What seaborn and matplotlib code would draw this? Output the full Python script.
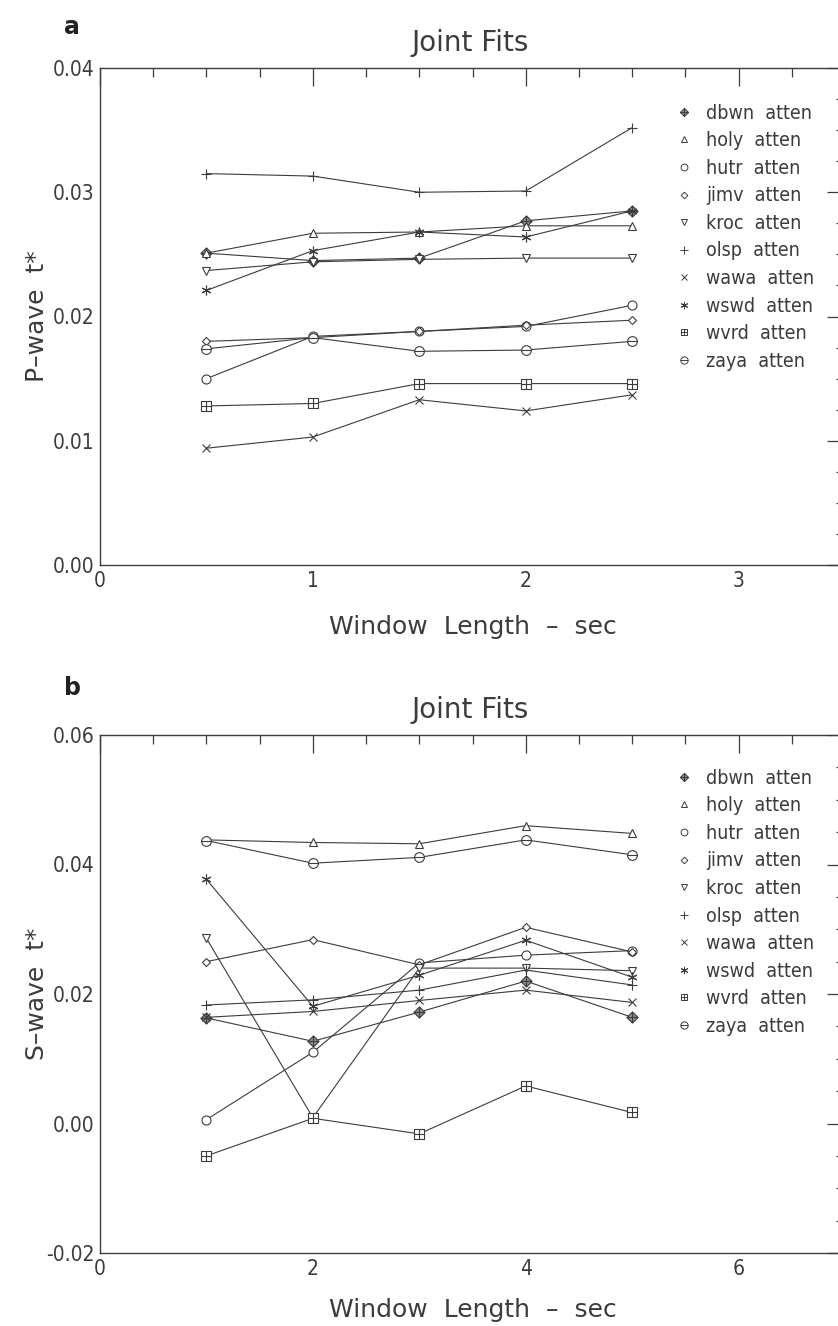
import numpy as np
import pandas as pd
import matplotlib
matplotlib.use("Agg")
import matplotlib.pyplot as plt
from matplotlib.lines import Line2D
from matplotlib.path import Path
from matplotlib.ticker import MultipleLocator, FormatStrFormatter
import seaborn as sns

# ---------------- data ----------------
stations = ["dbwn", "holy", "hutr", "jimv", "kroc", "olsp", "wawa", "wswd", "wvrd", "zaya"]

p_window = [0.5, 1.0, 1.5, 2.0, 2.5]
p_dbwn = [0.0251, 0.0245, 0.0247, 0.0277, 0.0285]
p_holy = [0.0251, 0.0267, 0.0268, 0.0273, 0.0273]
p_hutr = [0.0150, 0.0184, 0.0188, 0.0192, 0.0209]
p_jimv = [0.0180, 0.0183, 0.0188, 0.0193, 0.0197]
p_kroc = [0.0237, 0.0244, 0.0246, 0.0247, 0.0247]
p_olsp = [0.0315, 0.0313, 0.0300, 0.0301, 0.0352]
p_wawa = [0.0094, 0.0103, 0.0133, 0.0124, 0.0137]
p_wswd = [0.0221, 0.0253, 0.0268, 0.0264, 0.0285]
p_wvrd = [0.0128, 0.0130, 0.0146, 0.0146, 0.0146]
p_zaya = [0.0174, 0.0183, 0.0172, 0.0173, 0.0180]

s_window = [1, 2, 3, 4, 5]
s_dbwn = [0.0163, 0.0127, 0.0172, 0.0220, 0.0164]
s_holy = [0.0438, 0.0434, 0.0432, 0.0460, 0.0448]
s_hutr = [0.0006, 0.0110, 0.0248, 0.0260, 0.0267]
s_jimv = [0.0250, 0.0284, 0.0245, 0.0303, 0.0265]
s_kroc = [0.0286, 0.0009, 0.0240, 0.0240, 0.0236]
s_olsp = [0.0183, 0.0191, 0.0206, 0.0237, 0.0214]
s_wawa = [0.0164, 0.0173, 0.0190, 0.0206, 0.0187]
s_wswd = [0.0377, 0.0181, 0.0229, 0.0283, 0.0226]
s_wvrd = [-0.0050, 0.0008, -0.0016, 0.0058, 0.0017]
s_zaya = [0.0437, 0.0402, 0.0411, 0.0438, 0.0415]

p_vals = [p_dbwn, p_holy, p_hutr, p_jimv, p_kroc, p_olsp, p_wawa, p_wswd, p_wvrd, p_zaya]
s_vals = [s_dbwn, s_holy, s_hutr, s_jimv, s_kroc, s_olsp, s_wawa, s_wswd, s_wvrd, s_zaya]

p_df = pd.DataFrame([(st, x, v) for st, vals in zip(stations, p_vals)
                     for x, v in zip(p_window, vals)], columns=["station", "window", "t"])
s_df = pd.DataFrame([(st, x, v) for st, vals in zip(stations, s_vals)
                     for x, v in zip(s_window, vals)], columns=["station", "window", "t"])

# ---------------- style ----------------
sns.set_style("white")
plt.rcParams["font.family"] = ["DejaVu Sans"]
INK = "#3c3c3c"

M, L, C = Path.MOVETO, Path.LINETO, Path.CLOSEPOLY
hl = Path([[-1, 0], [1, 0]], [M, L])
vl = Path([[0, -1], [0, 1]], [M, L])
square = Path([[-1, -1], [1, -1], [1, 1], [-1, 1], [-1, -1]], [M, L, L, L, C])
diamond = Path([[0, -1], [1, 0], [0, 1], [-1, 0], [0, -1]], [M, L, L, L, C])
circle = Path.unit_circle()
diamond_plus = Path.make_compound_path(diamond, hl, vl)
square_plus = Path.make_compound_path(square, hl, vl)
circle_minus = Path.make_compound_path(circle, hl)

markers = {
    "dbwn": dict(marker=diamond_plus, ms=8, mfc="#8c8c8c"),
    "holy": dict(marker="^", ms=6, mfc="white"),
    "hutr": dict(marker="o", ms=6.5, mfc="white"),
    "jimv": dict(marker="D", ms=4.5, mfc="white"),
    "kroc": dict(marker="v", ms=6, mfc="white"),
    "olsp": dict(marker="+", ms=7, mfc=INK),
    "wawa": dict(marker="x", ms=6, mfc=INK),
    "wswd": dict(marker=(6, 2, 0), ms=7, mfc=INK),
    "wvrd": dict(marker=square_plus, ms=6.5, mfc="white"),
    "zaya": dict(marker=circle_minus, ms=7, mfc="white"),
}

W, H = 838, 1326
fig = plt.figure(figsize=(W / 100, H / 100), dpi=100)


def rect(l, t, r, b):
    return [l / W, 1 - b / H, (r - l) / W, (b - t) / H]


axa = fig.add_axes(rect(100, 68, 845, 565))
axb = fig.add_axes(rect(100, 735, 845, 1253))

txt = dict(family="DejaVu Sans", color=INK)


def draw(ax, df, xmax, xmaj, xmin, ymin, ymax, ymaj, ymi, ylabel, leg_top, title_y, xlab_y):
    for st in stations:
        sub = df[df["station"] == st]
        m = markers[st]
        sns.lineplot(data=sub, x="window", y="t", ax=ax, color=INK, lw=0.8,
                     marker=m["marker"], markersize=m["ms"], markerfacecolor=m["mfc"],
                     markeredgecolor=INK, markeredgewidth=0.8, legend=False)
    ax.set_xlim(0, xmax)
    ax.set_ylim(ymin, ymax)
    ax.xaxis.set_major_locator(MultipleLocator(xmaj))
    ax.xaxis.set_minor_locator(MultipleLocator(xmin))
    ax.yaxis.set_major_locator(MultipleLocator(ymaj))
    ax.yaxis.set_minor_locator(MultipleLocator(ymi))
    ax.yaxis.set_major_formatter(FormatStrFormatter("%.2f"))
    ax.xaxis.set_major_formatter(FormatStrFormatter("%d"))
    ax.tick_params(which="both", direction="in", top=True, right=True,
                   color=INK, width=0.9, labelcolor=INK, labelsize=15)
    ax.tick_params(which="major", length=13, pad=4)
    ax.tick_params(which="minor", length=6.5)
    for lab in ax.get_xticklabels() + ax.get_yticklabels():
        lab.set_fontstretch("condensed")
    for sp in ax.spines.values():
        sp.set_color(INK)
        sp.set_linewidth(1.0)
    ax.set_xlabel("")
    ax.set_ylabel(ylabel, fontsize=18, **txt)
    ax.yaxis.set_label_coords(-0.068, 0.5)
    ax.grid(False)
    fig.text(470 / W, 1 - title_y / H, "Joint Fits", fontsize=20, ha="center", va="center", **txt)
    fig.text(473 / W, 1 - xlab_y / H, "Window  Length  –  sec", fontsize=18, ha="center",
             va="center", **txt)
    handles = [Line2D([], [], ls="none", color=INK, marker=markers[s]["marker"],
                      markersize=markers[s]["ms"] * 0.75, markerfacecolor=markers[s]["mfc"],
                      markeredgecolor=INK, markeredgewidth=0.7) for s in stations]
    labels = [f"{s}  atten" for s in stations]
    leg = ax.legend(handles, labels, loc="upper left", frameon=False,
                    bbox_to_anchor=(666 / W, 1 - leg_top / H), bbox_transform=fig.transFigure,
                    handlelength=0.8, handletextpad=0.75, labelspacing=0.44, borderpad=0,
                    prop=dict(family="DejaVu Sans", stretch="condensed", size=14))
    for t in leg.get_texts():
        t.set_color(INK)


draw(axa, p_df, 3.5, 1, 0.25, 0.0, 0.04, 0.01, 0.0025, "P–wave  t*", 94, 43, 627)
draw(axb, s_df, 7.0, 2, 0.5, -0.02, 0.06, 0.02, 0.005, "S–wave  t*", 759, 710, 1310)

fig.text(64 / W, 1 - 27 / H, "a", fontsize=17, fontweight="bold", ha="left", va="center",
         family="DejaVu Sans", color="#222")
fig.text(64 / W, 1 - 688 / H, "b", fontsize=17, fontweight="bold", ha="left", va="center",
         family="DejaVu Sans", color="#222")

fig.savefig("out.png", dpi=100)
